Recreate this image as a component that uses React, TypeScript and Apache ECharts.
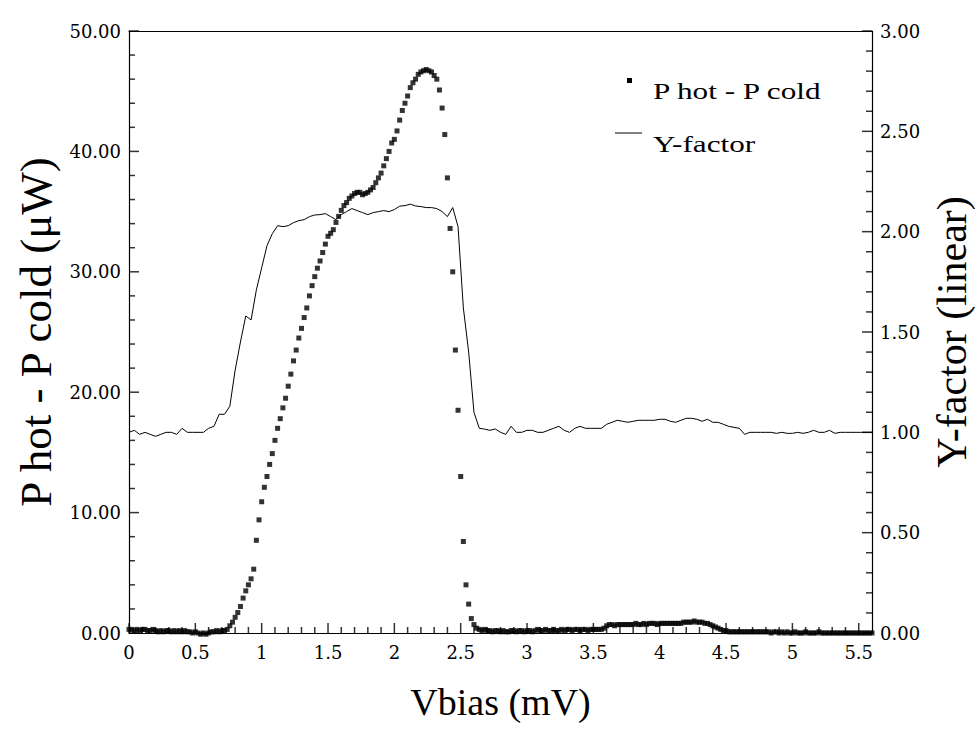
import React, { useEffect, useRef } from "react";
import * as echarts from "echarts";

// Vbias sampling of the P hot - P cold scan (mV)
const P_STEP_MV = 0.02;
// P hot - P cold (µW), one value every 0.02 mV from 0 to 5.60 mV
const P_HOT_MINUS_P_COLD_UW = [
  0.3, 0.3, 0.2, 0.3, 0.2, 0.3, 0.3, 0.2, 0.2, 0.3,
  0.2, 0.1, 0.2, 0.1, 0.2, 0.2, 0.1, 0.2, 0.1, 0.2,
  0.1, 0.2, 0.1, 0.1, 0.0, 0.1, 0.0, -0.1, 0.0, -0.1,
  0.0, 0.1, 0.1, 0.2, 0.1, 0.2, 0.2, 0.3,
  0.6, 0.9, 1.3, 1.7, 2.2, 2.9, 3.5, 4.0, 4.5, 5.3,
  7.7, 9.4, 10.9, 12.1, 13.0, 14.0, 14.9, 16.0, 17.0, 17.8,
  18.7, 19.5, 20.5, 21.5, 22.6, 23.5, 24.5, 25.3, 26.2, 27.0,
  28.0, 28.85, 29.6, 30.3, 30.9, 31.6, 32.3, 32.95, 33.2, 33.5,
  34.1, 34.6, 35.1, 35.5, 35.75, 36.1, 36.3, 36.5, 36.6, 36.6,
  36.4, 36.5, 36.6, 36.8, 37.0, 37.4, 37.8, 38.2, 38.8, 39.4,
  40.0, 40.7, 41.0, 41.7, 42.6, 43.4, 44.0, 44.6, 45.3, 45.7,
  46.0, 46.4, 46.6, 46.7, 46.8, 46.7, 46.6, 46.3, 46.0, 45.1,
  43.6, 41.4, 37.8, 33.6, 30.0, 23.5, 18.5, 13.0, 7.6, 4.0,
  2.4, 1.2, 0.7, 0.4, 0.3, 0.2, 0.3, 0.2, 0.2, 0.1,
  0.2, 0.2, 0.1, 0.2, 0.1, 0.1, 0.2, 0.2, 0.1, 0.2,
  0.2, 0.1, 0.2, 0.2, 0.1, 0.2, 0.3, 0.2, 0.2, 0.3,
  0.2, 0.2, 0.3, 0.2, 0.2, 0.3, 0.2, 0.3, 0.3, 0.2,
  0.3, 0.3, 0.2, 0.3, 0.3, 0.2, 0.3, 0.3, 0.3, 0.3,
  0.3, 0.4, 0.6, 0.7, 0.7, 0.6, 0.7, 0.7, 0.7, 0.7,
  0.7, 0.7, 0.7, 0.8, 0.7, 0.7, 0.8, 0.7, 0.8, 0.8,
  0.8, 0.7, 0.8, 0.8, 0.8, 0.8, 0.8, 0.8, 0.8, 0.8,
  0.8, 0.9, 0.9, 0.9, 0.9, 1.0, 0.9, 0.9, 0.9, 0.8,
  0.8, 0.7, 0.6, 0.5, 0.4, 0.3, 0.2, 0.2, 0.1, 0.1,
  0.1, 0.1, 0.1, 0.1, 0.1, 0.1, 0.1, 0.1, 0.1, 0.1,
  0.1, 0.1, 0.1, 0.1, 0.0, 0.1, 0.1, 0.0, 0.1, 0.0,
  0.1, 0.0, 0.0, 0.1, 0.0, 0.0, 0.0, 0.1, 0.0, 0.0,
  0.0, 0.0, 0.1, 0.0, 0.0, 0.0, 0.0, 0.0, 0.0, 0.0,
  0.0, 0.0, 0.0, 0.0, 0.0, 0.0, 0.0, 0.0, 0.0, 0.0,
  0.0, 0.0, 0.0,
];

// Vbias sampling of the Y-factor trace (mV)
const YF_STEP_MV = 0.04;
// Y-factor (linear), one value every 0.04 mV from 0 to 5.60 mV
const Y_FACTOR_LINEAR = [
  1.0, 1.01, 0.99, 1.0, 0.99, 0.98, 0.99, 1.0, 1.0, 0.99,
  1.02, 1.0, 1.0, 1.0, 1.0, 1.02, 1.03, 1.09, 1.09, 1.13,
  1.31, 1.45, 1.58, 1.56, 1.71, 1.82, 1.93, 1.99, 2.03, 2.025,
  2.03, 2.045, 2.055, 2.06, 2.075, 2.083, 2.085, 2.09, 2.075, 2.06,
  2.085, 2.1, 2.115, 2.105, 2.095, 2.085, 2.095, 2.1, 2.105, 2.1,
  2.11, 2.127, 2.13, 2.137, 2.128, 2.125, 2.12, 2.12, 2.115, 2.1,
  2.075, 2.12, 2.025, 1.62, 1.4, 1.1, 1.02, 1.016, 1.01, 1.017,
  1.0, 0.99, 1.03, 1.0, 1.0, 1.01, 1.01, 1.0, 1.0, 1.01,
  1.02, 1.03, 1.01, 1.0, 1.02, 1.03, 1.02, 1.02, 1.02, 1.02,
  1.04, 1.05, 1.06, 1.055, 1.05, 1.055, 1.06, 1.06, 1.06, 1.06,
  1.065, 1.065, 1.055, 1.05, 1.06, 1.07, 1.07, 1.065, 1.055, 1.065,
  1.05, 1.05, 1.04, 1.03, 1.025, 1.02, 0.99, 1.0, 1.0, 1.0,
  1.0, 1.0, 0.995, 1.0, 0.995, 0.995, 1.0, 0.995, 1.0, 1.01,
  1.0, 1.0, 1.01, 0.995, 1.0, 1.0, 1.0, 1.0, 1.0, 1.0,
  1.0,
];

// axis ranges and tick spacing
const X_MIN = 0, X_MAX = 5.6, X_LABEL_STEP = 0.5, X_MINOR_STEP = 0.1, X_LAST_LABEL = 5.5;
const YL_MIN = 0, YL_MAX = 50, YL_LABEL_STEP = 10, YL_MINOR_STEP = 2;
const YR_MIN = 0, YR_MAX = 3, YR_LABEL_STEP = 0.5, YR_MINOR_STEP = 0.1;

const SERIES_NAMES = ["P hot - P cold", "Y-factor"];
const X_TITLE = "Vbias (mV)";
const Y_LEFT_TITLE = "P hot - P cold (μW)";
const Y_RIGHT_TITLE = "Y-factor (linear)";

const TICK_FONT = '"DejaVu Serif", "Liberation Serif", serif';
const TITLE_FONT = '"Liberation Serif", "Times New Roman", serif';

const steps = (min: number, max: number, step: number) => {
  const out: number[] = [];
  const n = Math.round((max - min) / step);
  for (let i = 0; i <= n; i++) out.push(Number((min + i * step).toFixed(4)));
  return out;
};
const isMultiple = (v: number, step: number) =>
  Math.abs(v / step - Math.round(v / step)) < 1e-6;

export default function App() {
  const ref = useRef<HTMLDivElement>(null);

  useEffect(() => {
    document.body.style.margin = "0";
    if (!ref.current) return;
    const chart = echarts.init(ref.current, undefined, { renderer: "svg" });

    const pData = P_HOT_MINUS_P_COLD_UW.map((p, i) => [
      Number((i * P_STEP_MV).toFixed(2)),
      p,
    ]);
    const yfData = Y_FACTOR_LINEAR.map((y, i) => [
      Number((i * YF_STEP_MV).toFixed(2)),
      y,
    ]);

    const black = "#000";

    // tick marks, placed through the axes' own scales
    const xAll = steps(X_MIN, X_LAST_LABEL, X_MINOR_STEP);
    const xMajor = xAll.filter((v) => isMultiple(v, X_LABEL_STEP)).map((v) => [v, YL_MIN]);
    const xMinor = xAll.filter((v) => !isMultiple(v, X_LABEL_STEP)).map((v) => [v, YL_MIN]);
    const ylAll = steps(YL_MIN, YL_MAX, YL_MINOR_STEP);
    const ylMajor = ylAll.filter((v) => isMultiple(v, YL_LABEL_STEP)).map((v) => [X_MIN, v]);
    const ylMinor = ylAll.filter((v) => !isMultiple(v, YL_LABEL_STEP)).map((v) => [X_MIN, v]);
    const yrAll = steps(YR_MIN, YR_MAX, YR_MINOR_STEP);
    const yrMajor = yrAll.filter((v) => isMultiple(v, YR_LABEL_STEP)).map((v) => [X_MAX, v]);
    const yrMinor = yrAll.filter((v) => !isMultiple(v, YR_LABEL_STEP)).map((v) => [X_MAX, v]);

    const tickMarks = (
      name: string,
      yAxisIndex: number,
      data: number[][],
      size: number[],
      offset: number[]
    ) => ({
      name,
      type: "scatter",
      xAxisIndex: 0,
      yAxisIndex,
      data,
      symbol: "rect",
      symbolSize: size,
      symbolOffset: offset,
      clip: false,
      silent: true,
      itemStyle: { color: black },
      z: 4,
    });

    const axisCommon = {
      axisLine: { show: true, onZero: false, lineStyle: { color: black, width: 1.2 } },
      axisTick: { show: false },
      splitLine: { show: false },
    };

    chart.setOption({
      animation: false,
      backgroundColor: "#fff",
      grid: {
        left: 129,
        right: 107,
        top: 31,
        bottom: 99,
        show: false,
        outerBoundsMode: "none",
      },
      xAxis: [
        {
          type: "value",
          min: X_MIN,
          max: X_MAX,
          interval: X_LABEL_STEP,
          position: "bottom",
          ...axisCommon,
          axisLabel: {
            color: black,
            fontFamily: TICK_FONT,
            fontSize: 18,
            margin: 10,
            formatter: (v: number) =>
              isMultiple(v, X_LABEL_STEP) && v <= X_LAST_LABEL + 1e-6
                ? String(Math.round(v * 2) / 2)
                : "",
          },
          name: X_TITLE,
          nameLocation: "middle",
          nameGap: 50,
          nameTextStyle: { fontFamily: TITLE_FONT, fontSize: 38, color: black },
        },
        {
          type: "value",
          min: X_MIN,
          max: X_MAX,
          position: "top",
          ...axisCommon,
          axisLabel: { show: false },
        },
      ],
      yAxis: [
        {
          type: "value",
          min: YL_MIN,
          max: YL_MAX,
          interval: YL_LABEL_STEP,
          position: "left",
          ...axisCommon,
          axisLabel: {
            color: black,
            fontFamily: TICK_FONT,
            fontSize: 18,
            margin: 8,
            formatter: (v: number) => v.toFixed(2),
          },
          name: Y_LEFT_TITLE,
          nameLocation: "middle",
          nameRotate: 90,
          nameGap: 70,
          nameTextStyle: { fontFamily: TITLE_FONT, fontSize: 45, color: black },
        },
        {
          type: "value",
          min: YR_MIN,
          max: YR_MAX,
          interval: YR_LABEL_STEP,
          position: "right",
          ...axisCommon,
          axisLabel: {
            color: black,
            fontFamily: TICK_FONT,
            fontSize: 18,
            margin: 8,
            formatter: (v: number) => v.toFixed(2),
          },
          name: Y_RIGHT_TITLE,
          nameLocation: "middle",
          nameRotate: 90,
          nameGap: 58,
          nameTextStyle: { fontFamily: TITLE_FONT, fontSize: 42, color: black },
        },
      ],
      graphic: [
        {
          type: "rect",
          shape: { x: 627, y: 78, width: 5, height: 5 },
          style: { fill: black },
        },
        {
          type: "text",
          x: 653,
          y: 91,
          scaleX: 1.3,
          style: {
            text: SERIES_NAMES[0],
            font: '24px "Liberation Serif", serif',
            fill: black,
            verticalAlign: "middle",
          },
        },
        {
          type: "line",
          shape: { x1: 615, y1: 133, x2: 642, y2: 133 },
          style: { stroke: black, lineWidth: 1 },
        },
        {
          type: "text",
          x: 653,
          y: 144,
          scaleX: 1.3,
          style: {
            text: SERIES_NAMES[1],
            font: '24px "Liberation Serif", serif',
            fill: black,
            verticalAlign: "middle",
          },
        },
      ],
      series: [
        {
          name: SERIES_NAMES[1],
          type: "line",
          xAxisIndex: 0,
          yAxisIndex: 1,
          data: yfData,
          showSymbol: false,
          symbol: "none",
          lineStyle: { color: black, width: 1 },
          z: 2,
        },
        {
          name: SERIES_NAMES[0],
          type: "scatter",
          xAxisIndex: 0,
          yAxisIndex: 0,
          data: pData,
          symbol: "rect",
          symbolSize: 5,
          clip: false,
          itemStyle: { color: black },
          z: 3,
        },
        tickMarks("x major ticks", 0, xMajor, [1.5, 10], [0, -5]),
        tickMarks("x minor ticks", 0, xMinor, [1.5, 6], [0, -3]),
        tickMarks("left major ticks", 0, ylMajor, [10, 1.5], [5, 0]),
        tickMarks("left minor ticks", 0, ylMinor, [6, 1.5], [3, 0]),
        tickMarks("right major ticks", 1, yrMajor, [10, 1.5], [-5, 0]),
        tickMarks("right minor ticks", 1, yrMinor, [6, 1.5], [-3, 0]),
      ],
    });

    return () => chart.dispose();
  }, []);

  return <div ref={ref} style={{ width: 979, height: 732 }} />;
}
